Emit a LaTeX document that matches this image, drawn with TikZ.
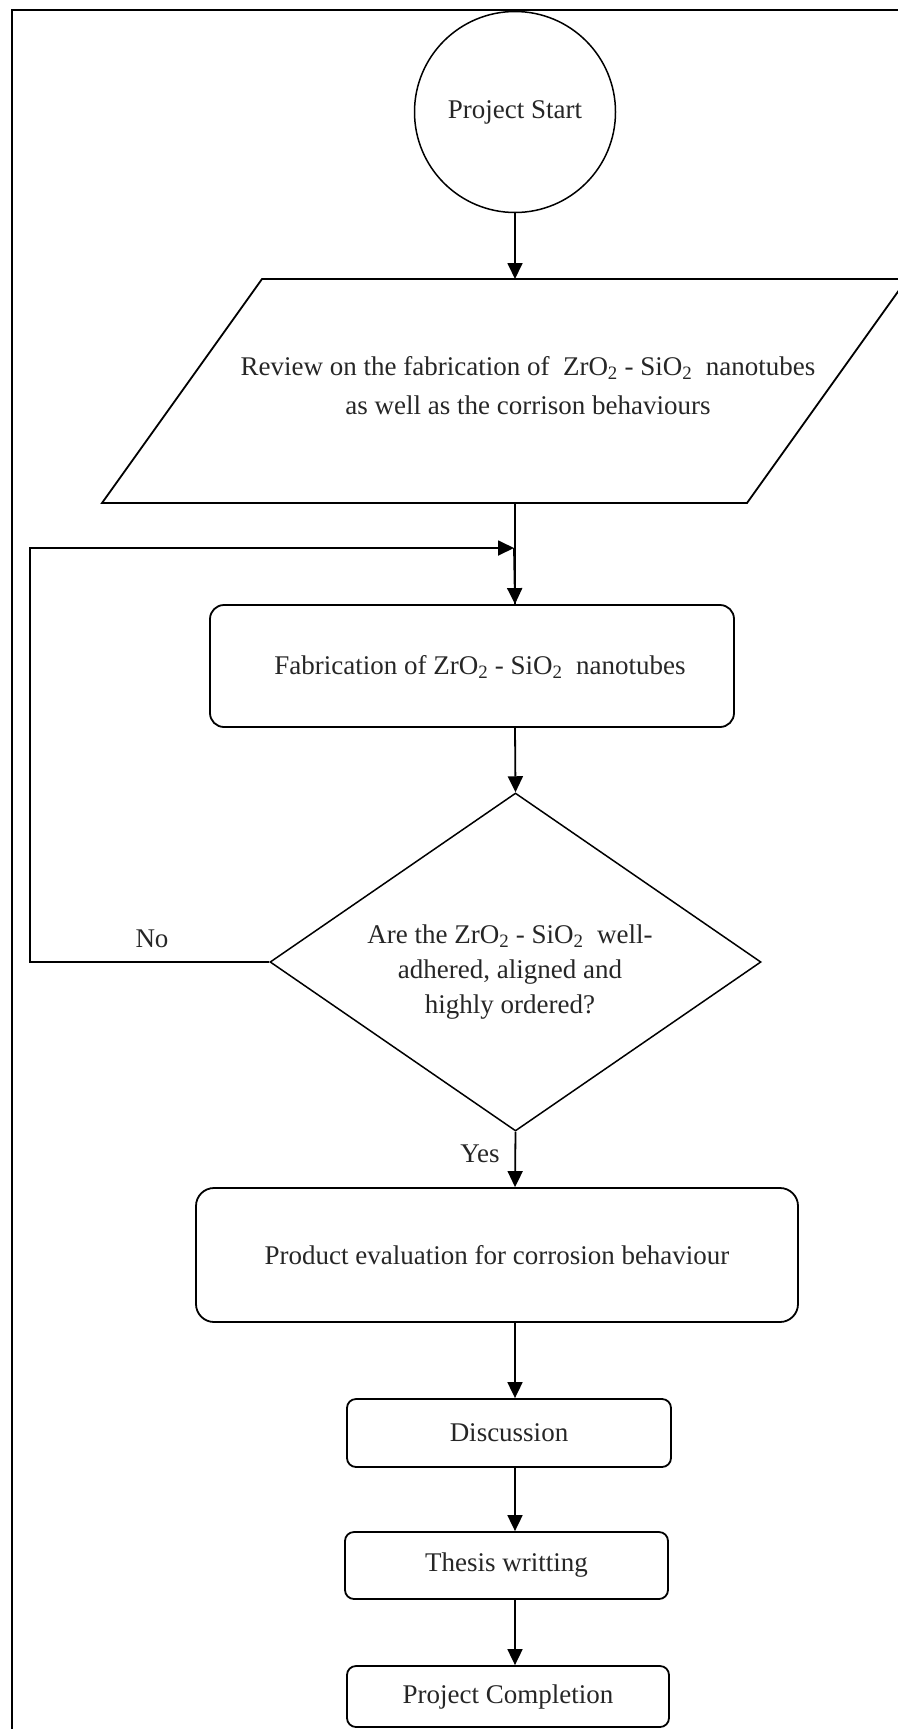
\documentclass[tikz,border=0pt]{standalone}
\usepackage{fontspec}
\setmainfont{Liberation Serif}
\usetikzlibrary{arrows.meta,shapes.geometric}
\begin{document}
\begin{tikzpicture}[x=1pt,y=-1pt,
  line width=1.8pt,
  arr/.style={-{Triangle[width=15pt,length=16pt]}, line width=1.8pt},
  txt/.style={font=\fontsize{27}{39}\selectfont, text=black!85, align=center, inner sep=0pt},
  rbox/.style={draw, rounded corners=#1, inner sep=0pt, font=\fontsize{27}{39}\selectfont, text=black!85, align=center},
]
\useasboundingbox (0,0) rectangle (897,1729);
% outer frame (left and top edges visible)
\draw[line width=2pt] (12,1745) -- (12,10) -- (915,10);

\coordinate (sp) at (515,0);

% start
\node[draw, circle, minimum size=201pt, inner sep=0pt, line width=1.5pt, txt] (start) at (515,112) {Project Start};

% review parallelogram
\coordinate (pTL) at (262,279);
\coordinate (pTR) at (907,279);
\coordinate (pBR) at (747,503);
\coordinate (pBL) at (102,503);
\draw (pTL) -- (pTR) -- (pBR) -- (pBL) -- cycle;
\node[txt] (review) at (528,386) {Review on the fabrication of \ ZrO\textsubscript{2} - SiO\textsubscript{2} \ nanotubes\\as well as the corrison behaviours};

% fabrication
\node[rbox=14pt, minimum width=524pt, minimum height=122pt] (fab) at (472,666) {};
\node[txt] (fabt) at (480,667) {Fabrication of ZrO\textsubscript{2} - SiO\textsubscript{2} \ nanotubes};

% decision
\node[draw, diamond, aspect=1.45, minimum width=491pt, minimum height=338pt, inner sep=0pt, line width=1.5pt] (dec) at (515.5,962) {};
\node[txt, font=\fontsize{27}{35}\selectfont] (dect) at (510,972) {Are the ZrO\textsubscript{2} - SiO\textsubscript{2} \ well-\\adhered, aligned and\\highly ordered?};

% product evaluation
\node[rbox=18pt, minimum width=602pt, minimum height=134pt] (prod) at (497,1255) {Product evaluation for corrosion behaviour};

% discussion, thesis, completion
\node[rbox=9pt, minimum width=324pt, minimum height=68pt] (disc) at (509,1433) {Discussion};
\node[rbox=9pt, minimum width=323pt, minimum height=67pt] (thes) at (506.5,1565.5) {Thesis writting};
\node[rbox=9pt, minimum width=322pt, minimum height=61pt] (comp) at (508,1696.5) {Project Completion};

% labels
\node[txt] (no) at (152,939) {No};
\node[txt] (yes) at (480,1154) {Yes};

% connectors
\coordinate (fbl) at (30,548);
\coordinate (fbe) at (514,548);
\draw[arr] (start.south) -- (pTL -| sp);
\draw (pBL -| sp) -- (fab.north -| sp);
\draw[arr] (fbe) -- (fab.north -| sp);
\draw[arr] (dec.west) -| (fbl) -- (fbe);
\draw[arr] (fab.south -| sp) -- (dec.north);
\draw[arr] (dec.south) -- (prod.north -| sp);
\draw[arr] (prod.south -| sp) -- (disc.north -| sp);
\draw[arr] (disc.south -| sp) -- (thes.north -| sp);
\draw[arr] (thes.south -| sp) -- (comp.north -| sp);
\end{tikzpicture}
\end{document}
